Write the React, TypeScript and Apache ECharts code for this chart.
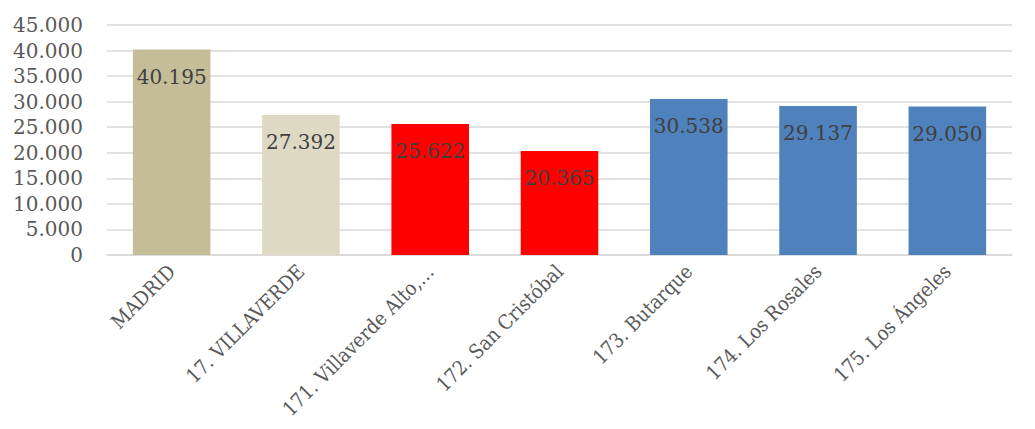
import React, { useEffect, useRef } from "react";
import * as echarts from "echarts";

const categories = [
  "MADRID",
  "17. VILLAVERDE",
  "171. Villaverde Alto,…",
  "172. San Cristóbal",
  "173. Butarque",
  "174. Los Rosales",
  "175. Los Ángeles",
];
const values = [40195, 27392, 25622, 20365, 30538, 29137, 29050];
const barColors = ["#C4BD97", "#DDD9C3", "#FF0000", "#FF0000", "#4F81BD", "#4F81BD", "#4F81BD"];

const fmt = (v: number) => String(Math.round(v)).replace(/\B(?=(\d{3})+(?!\d))/g, ".");

export default function App() {
  const ref = useRef<HTMLDivElement>(null);
  useEffect(() => {
    if (!ref.current) return;
    const chart = echarts.init(ref.current, undefined, { renderer: "svg" });
    const font = "DejaVu Serif";
    chart.setOption({
      animation: false,
      backgroundColor: "#FFFFFF",
      grid: {
        left: 107,
        right: 23,
        top: 25,
        bottom: 174,
        containLabel: false,
        outerBoundsMode: "none",
      },
      xAxis: {
        type: "category",
        data: categories,
        axisLine: { show: true, lineStyle: { color: "#D9D9D9", width: 1.5 } },
        axisTick: { show: false },
        axisLabel: {
          rotate: 45,
          interval: 0,
          margin: 13,
          color: "#595959",
          fontFamily: "'DejaVu Serif Condensed', 'DejaVu Serif', serif",
          fontSize: 20,
        },
      },
      yAxis: {
        type: "value",
        min: 0,
        max: 45000,
        interval: 5000,
        axisLine: { show: false },
        axisTick: { show: false },
        splitLine: { show: true, lineStyle: { color: "#D9D9D9", width: 1.5 } },
        axisLabel: {
          margin: 24,
          color: "#595959",
          fontFamily: font,
          fontSize: 20,
          formatter: (v: number) => fmt(v),
        },
      },
      series: [
        {
          type: "bar",
          barCategoryGap: "40%",
          data: values.map((v, i) => ({ value: v, itemStyle: { color: barColors[i] } })),
          label: {
            show: true,
            position: "insideTop",
            distance: 17,
            color: "#404040",
            fontFamily: font,
            fontSize: 20,
            formatter: (p: any) => fmt(p.value),
          },
        },
      ],
    });
    return () => chart.dispose();
  }, []);
  return (
    <div
      ref={ref}
      style={{ position: "fixed", left: 0, top: 0, width: 1035, height: 429, background: "#fff" }}
    />
  );
}
